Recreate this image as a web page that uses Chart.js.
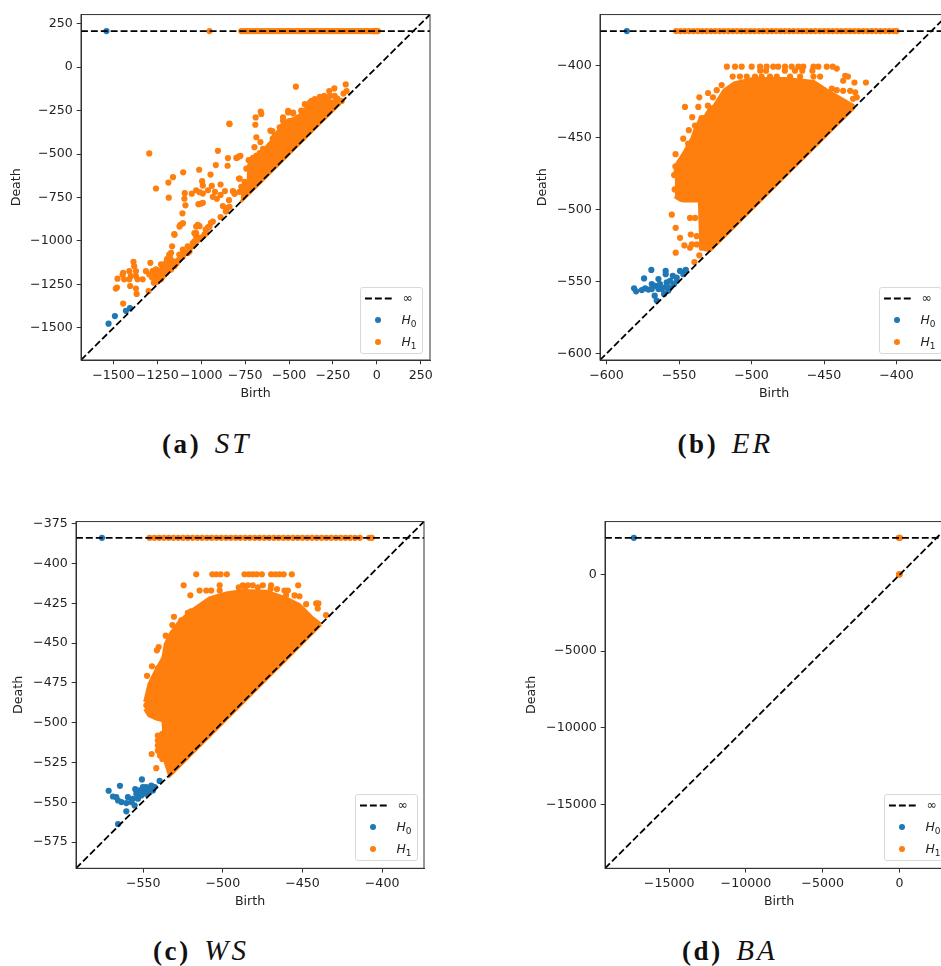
<!DOCTYPE html>
<html>
<head>
<meta charset="utf-8">
<script src="https://cdn.jsdelivr.net/npm/chart.js@4"></script>
<style>
  html, body { margin: 0; padding: 0; background: #fff; width: 941px; height: 966px; overflow: hidden; }
  canvas { position: absolute; filter: blur(.4px); }
  .caption { position: absolute; font-family: "Liberation Serif", serif; font-size: 27px; color: #111; white-space: pre; line-height: 30px; }
  .caption b { letter-spacing: 2.6px; }
  .caption i { font-size: 29px; letter-spacing: 3px; }
  .legend { position: absolute; width: 63px; height: 67px; box-sizing: border-box; border: 1px solid #d9d9d9; border-radius: 3px; background: rgba(255,255,255,.8); font: 12.4px "DejaVu Sans", sans-serif; color: #222; filter: blur(.3px); }
  .legend span { position: absolute; left: 41px; line-height: 14px; }
  .legend sub { font-size: 9px; vertical-align: -3px; line-height: 0; }
  .legend em { position: absolute; left: 14px; width: 6px; height: 6px; border-radius: 50%; }
  .legend svg { position: absolute; left: 3px; top: 8px; }
</style>
</head>
<body>
<script>
const blue = '#1f77b4';
const orange = '#ff7f0e';

// ST
const stLimits = [-1685, 303];
const stXTicks = [-1500, -1250, -1000, -750, -500, -250, 0, 250];
const stYTicks = [-1500, -1250, -1000, -750, -500, -250, 0, 250];
const stInf = 208;
const stH0 = [[-1528, -1476], [-1492, -1432], [-1429, -1402], [-1406, -1387]];
const stH0Inf = [-1540];
const stH1Inf = [-953, -772, -755, -738, -722, -705, -690, -672, -655, -640, -622, -606, -590, -572, -555, -540, -522, -506, -490, -472, -456, -440, -422, -406, -390, -372, -356, -340, -322, -306, -290, -272, -256, -240, -222, -206, -190, -172, -156, -140, -122, -106, -90, -72, -56, -40, -22, -15, -8, 0, 6];
const stCloudBirth = [-775, -734, -728, -667, -600, -534, -448, -410, -324, -200];
const stCloudTop = [-722, -660, -560, -500, -425, -320, -285, -240, -195, -195];
const stCloudLow = [-775, -734, -728, -667, -600, -534, -448, -410, -324, -200];
const stH1 = [
  [-1296, -496], [-1258, -698], [-1187, -664], [-1161, -633], [-1185, -751], [-1103, -605], [-1012, -590], [-947, -618],
  [-905, -481], [-917, -563], [-848, -523], [-850, -567], [-840, -325], [-793, -519], [-777, -510], [-781, -641],
  [-995, -656], [-991, -681], [-940, -683], [-962, -708], [-890, -675], [-865, -713], [-922, -717], [-820, -713],
  [-810, -727], [-1094, -725], [-1029, -708], [-1054, -728], [-1010, -719], [-991, -727], [-1096, -757], [-1090, -795],
  [-934, -746], [-911, -757], [-890, -735], [-1016, -788], [-991, -780], [-1000, -785], [-877, -799], [-842, -765],
  [-839, -803], [-858, -826], [-850, -810], [-1107, -841], [-1105, -898], [-1124, -917], [-1153, -964], [-1029, -917],
  [-1029, -955], [-1010, -915], [-945, -895], [-975, -935], [-960, -920], [-890, -862], [-860, -830],
  [-1487, -1274], [-1480, -1268], [-1445, -1360], [-1368, -1305], [-1372, -1274], [-1405, -1259], [-1477, -1217], [-1439, -1221],
  [-1448, -1193], [-1445, -1183], [-1410, -1174], [-1410, -1221], [-1401, -1202], [-1386, -1120], [-1382, -1145], [-1372, -1174],
  [-1372, -1202], [-1363, -1221], [-1334, -1221], [-1290, -1126], [-1315, -1174], [-1296, -1193], [-1277, -1174], [-1267, -1202],
  [-1239, -1193], [-1300, -1288], [-1258, -1164], [-1229, -1135], [-1201, -1126], [-1182, -1078], [-1178, -1097], [-1172, -1069],
  [-1163, -1116], [-1201, -1164], [-1220, -1164], [-1248, -1212], [-1229, -1221], [-1182, -1145], [-1153, -1145], [-1172, -1164],
  [-1258, -1212], [-1239, -1183], [-1210, -1193], [-1191, -1126], [-1172, -1116], [-1134, -1116], [-1125, -1078], [-1105, -1050],
  [-1077, -1031], [-1067, -1060], [-1105, -1088], [-1039, -1002], [-1077, -1069], [-1166, -1031], [-1153, -961], [-1119, -907],
  [-1105, -898], [-1020, -907], [-1039, -955], [-1029, -974], [-1048, -1012], [-1020, -993], [-963, -926], [-934, -888],
  [-953, -917], [-972, -955], [-982, -964], [-1250, -1235], [-1240, -1220], [-1230, -1200], [-1220, -1205], [-1210, -1180],
  [-1200, -1185], [-1190, -1170], [-1180, -1160], [-1170, -1150], [-1160, -1130], [-1150, -1125], [-1140, -1128], [-1130, -1110],
  [-1270, -1240], [-1280, -1210], [-1260, -1190], [-1245, -1170], [-1215, -1145], [-1195, -1105], [-1185, -1095], [-1100, -1075],
  [-1085, -1065], [-1060, -1035], [-1040, -1020], [-1010, -990], [-1000, -980], [-461, -112], [-177, -99], [-242, -122],
  [-271, -137], [-172, -137], [-190, -152], [-324, -175], [-372, -194], [-410, -213], [-505, -251], [-477, -261],
  [-534, -289], [-661, -255], [-658, -269], [-690, -289], [-692, -331], [-606, -365], [-595, -368], [-686, -403],
  [-663, -431], [-697, -460], [-781, -512], [-800, -522], [-785, -641], [-816, -717], [-810, -728], [-839, -327],
  [-743, -584], [-724, -574], [-710, -540], [-730, -535], [-593, -411], [-553, -383], [-534, -337], [-500, -310],
  [-465, -305], [-430, -250], [-395, -225], [-350, -190], [-300, -165], [-280, -190], [-240, -165], [-225, -180],
  [-724, -536], [-705, -521], [-686, -508], [-667, -495], [-648, -470], [-629, -489], [-696, -565], [-715, -578],
  [-671, -536], [-610, -451], [-581, -394], [-553, -346], [-534, -308], [-505, -260], [-477, -266], [-429, -251],
  [-381, -204], [-353, -184], [-324, -171], [-296, -184], [-267, -165], [-229, -184], [-200, -194], [-448, -289],
  [-772, -688], [-753, -660], [-782, -717]
];

// ER
const erLimits = [-604.5, -364.5];
const erXTicks = [-600, -550, -500, -450, -400];
const erYTicks = [-600, -550, -500, -450, -400];
const erInf = -376;
const erH0Inf = [-586];
const erH0 = [
  [-569.1, -541.9], [-574.1, -547.8], [-559.2, -542.6], [-559.2, -544.9], [-545.3, -541.9], [-581, -554.7], [-579.6, -556.8], [-575.7, -555.9],
  [-573.4, -554.7], [-571.1, -555.6], [-568.8, -551.7], [-566.8, -559.8], [-565.4, -563.2], [-564.2, -548.3], [-563.1, -551.7], [-561.9, -555.2],
  [-560.3, -558.6], [-558.5, -550.6], [-559.6, -554], [-556.2, -549.5], [-554.3, -546], [-551.6, -547.2], [-549.3, -542.6], [-553.4, -551.7],
  [-556.2, -554], [-551.6, -549.5], [-547, -544.9], [-566.5, -552.9], [-568.8, -555.2], [-557.3, -556.3], [-564.2, -555.2]
];
const erH1Inf = [-552, -549, -546, -543, -540, -537, -534, -531, -528, -525, -522, -519, -516, -513, -510, -507, -504, -501, -498, -495, -492, -489, -486, -483, -480, -477, -474, -471, -468, -465, -462, -459, -456, -453, -450, -447, -444, -441, -438, -435, -432, -429, -426, -423, -420, -417, -414, -411, -408, -405, -402, -400];
const erCloudBirth = [-553, -551.6, -549, -547, -541, -539, -536, -535, -532, -528.5, -526, -519, -512, -499, -476, -457, -448, -429];
const erCloudTop = [-475, -468, -464, -461, -450, -444, -438, -437, -435, -429, -428, -417, -412, -409, -409, -411, -417, -428];
const erCloudLow = [-491, -492, -493.5, -494, -494, -494, -494, -526, -528, -528.5, -526, -519, -512, -499, -476, -457, -448, -429];
const erH1 = [
  [-517, -400.7], [-511.4, -400.7], [-506.8, -400.7], [-499.9, -400.7], [-494.1, -400.7], [-489.6, -400.7], [-485, -400.7], [-481.6, -400.7],
  [-476.9, -400.7], [-472.3, -400.7], [-467.7, -400.7], [-464.3, -400.7], [-457.3, -400.7], [-453.9, -400.7], [-448.1, -400.7], [-444, -400.7],
  [-441.2, -402], [-513, -407.6], [-508, -407.6], [-503.3, -407.6], [-497.6, -407.6], [-493, -407.6], [-487.3, -407.6], [-482.6, -407.6],
  [-473.4, -407.6], [-466.5, -407.6], [-457.3, -407.6], [-452.7, -407.6], [-494, -403.5], [-490, -403.5], [-477, -403.5], [-470, -403.5],
  [-465, -403.5], [-458, -403.5], [-435.4, -407], [-433.5, -407.6], [-436.8, -410.5], [-429, -411.7], [-421.1, -411.7], [-441.2, -417],
  [-436.8, -417.5], [-432, -417.5], [-428.5, -418.6], [-427.4, -422], [-430, -423], [-444.6, -416], [-520.6, -413.5], [-524, -417],
  [-530, -419], [-526.6, -422], [-536, -422], [-545.9, -428.7], [-536.7, -428.7], [-530.1, -427.8], [-523, -427.5], [-540.9, -435.8],
  [-534.5, -436.5], [-543.2, -444.8], [-539, -441.6], [-547.1, -450.7], [-543.7, -454.2], [-552.4, -461.5], [-555, -503.5], [-552.3, -512.7],
  [-549.3, -519.6], [-546.3, -524.9], [-552.3, -529.9], [-542.4, -505.8], [-538.9, -505.8], [-541.9, -517.3], [-537.8, -518.5], [-541.2, -524.2],
  [-537.8, -524.2], [-542.4, -526.5], [-536, -531.8], [-539.4, -536.4], [-534.3, -526.5], [-553.4, -476], [-552.5, -470], [-553, -486], [-550, -491]
];

// WS
const wsXLimits = [-592.2, -373.7];
const wsYLimits = [-591.4, -373.6];
const wsXTicks = [-550, -500, -450, -400];
const wsYTicks = [-575, -550, -525, -500, -475, -450, -425, -400, -375];
const wsInf = -383.8;
const wsH0Inf = [-575.9];
const wsH0 = [
  [-571.7, -542.7], [-564.6, -539.6], [-565.8, -563.6], [-560.6, -555.6], [-550.8, -535.6], [-539.7, -536.5], [-569, -546.3], [-566.9, -546.7],
  [-565.8, -548.8], [-563.7, -549.8], [-560.6, -550.4], [-559.6, -546.7], [-557.5, -549.8], [-555.4, -551.9], [-556.4, -547.7], [-554.3, -544.6],
  [-555, -541.7], [-552.2, -542.5], [-550.2, -540.4], [-548.1, -540.4], [-544.9, -539.4], [-542.8, -540.4], [-551.2, -545.6], [-553.3, -547.7],
  [-548.1, -544.6], [-546, -543.5], [-543.9, -542.5], [-549.5, -542.5], [-547, -542]
];
const wsH1Inf = [-546, -543, -540, -537, -534, -531, -528, -525, -522, -519, -516, -513, -510, -507, -504, -501, -498, -495, -492, -489, -486, -483, -480, -477, -474, -471, -468, -465, -462, -459, -456, -453, -450, -447, -444, -441, -438, -435, -432, -429, -426, -423, -420, -417, -414, -408, -406.5];
const wsCloudBirth = [-549.1, -546.4, -541.8, -537.6, -536.2, -533.4, -527.2, -518.8, -508.4, -497.9, -487.5, -472.8, -460.3, -451.9, -443.6, -438.3];
const wsCloudTop = [-486.8, -475.7, -466.4, -459, -450.7, -444.5, -436.1, -428.8, -421.5, -418.4, -416.9, -417.3, -421.5, -425.7, -434, -438];
const wsCloudLow = [-491.4, -495.6, -497.7, -498.7, -524.8, -533.4, -527.2, -518.8, -508.4, -497.9, -487.5, -472.8, -460.3, -451.9, -443.6, -438.3];
const wsH1 = [
  [-540.8, -508.1], [-540.8, -511.2], [-540.8, -514.3], [-540.8, -517.5], [-538, -507], [-538, -510.2], [-538, -513.3], [-538, -516.4],
  [-538, -519.6], [-538, -522.7], [-539.5, -520.6], [-516.7, -406.7], [-506.6, -406.7], [-504.1, -406.7], [-501.4, -406.7], [-497.5, -406.7],
  [-486.4, -406.7], [-483.7, -406.7], [-481.2, -406.7], [-478.7, -406.7], [-475.5, -406.7], [-469.7, -406.7], [-467, -406.7], [-464.5, -406.7],
  [-461.8, -406.7], [-456.7, -406.7], [-524.6, -413.6], [-502, -413.6], [-487.5, -413.6], [-484.3, -413.6], [-481.2, -413.6], [-474.9, -413.6],
  [-469.7, -413.6], [-452.7, -413.6], [-514.6, -416.9], [-510.4, -416.9], [-507.3, -416.9], [-502, -416.9], [-461.3, -416.9], [-459.2, -416.9],
  [-520.4, -419.9], [-451.9, -420.5], [-460.3, -420], [-455, -420], [-441.4, -425], [-440, -425], [-440.4, -428.2], [-435.2, -432.4],
  [-530.7, -433.4], [-522, -430.9], [-520, -430], [-531.7, -438.6], [-526.1, -435.7], [-535.9, -445.3], [-531.3, -443.5], [-540.3, -452.4],
  [-541.4, -454.5], [-544.5, -464.5], [-540.7, -465.7], [-447.7, -425.5], [-547.6, -470.5], [-544.7, -519.6], [-541.8, -528.5], [-548, -489],
  [-490, -415], [-486, -415], [-478, -415], [-470, -416], [-466, -416]
];

// BA
const baXLimits = [-19181, 3491];
const baYLimits = [-19150, 3437];
const baXTicks = [-15000, -10000, -5000, 0];
const baYTicks = [-15000, -10000, -5000, 0];
const baInf = 2380;
const baH0Inf = [-17300];
const baH0 = [];
const baH1Inf = [-40, 0, 30];
const baH1 = [[-30, -10], [0, 0], [20, 10]];

// plot boxes and legend / caption places, in page pixels
const panels = [
  { box: [81, 13.3, 349, 347.7], deathX: 16, birthY: 394, legend: [359.5, 287], caption: [162, 428], label: '(a)', name: 'ST',
    xLim: stLimits, yLim: stLimits, xTicks: stXTicks, yTicks: stYTicks, inf: stInf, h0: stH0, h0Inf: stH0Inf, h1: stH1, h1Inf: stH1Inf,
    cloud: [stCloudBirth, stCloudTop, stCloudLow] },
  { box: [600, 13.3, 348, 347.7], deathX: 542, birthY: 394, legend: [878.5, 287], caption: [677.5, 428], label: '(b)', name: 'ER',
    xLim: erLimits, yLim: erLimits, xTicks: erXTicks, yTicks: erYTicks, inf: erInf, h0: erH0, h0Inf: erH0Inf, h1: erH1, h1Inf: erH1Inf,
    cloud: [erCloudBirth, erCloudTop, erCloudLow] },
  { box: [76, 520, 348.7, 348.3], deathX: 18, birthY: 901, legend: [354.5, 794], caption: [153, 935], label: '(c)', name: 'WS',
    xLim: wsXLimits, yLim: wsYLimits, xTicks: wsXTicks, yTicks: wsYTicks, inf: wsInf, h0: wsH0, h0Inf: wsH0Inf, h1: wsH1, h1Inf: wsH1Inf,
    cloud: [wsCloudBirth, wsCloudTop, wsCloudLow] },
  { box: [605, 520, 348.7, 348.3], deathX: 531, birthY: 901, legend: [883.5, 794], caption: [682, 935], label: '(d)', name: 'BA',
    xLim: baXLimits, yLim: baYLimits, xTicks: baXTicks, yTicks: baYTicks, inf: baInf, h0: baH0, h0Inf: baH0Inf, h1: baH1, h1Inf: baH1Inf,
    cloud: null }
];

const tickFont = { family: '"DejaVu Sans"', size: 12.6 };

const frame = {
  id: 'frame',
  afterDatasetsDraw(chart) {
    const a = chart.chartArea, c = chart.ctx;
    c.save();
    c.strokeStyle = '#333';
    c.lineWidth = 1;
    c.strokeRect(a.left, a.top, a.right - a.left, a.bottom - a.top);
    c.restore();
  }
};

function pts(pairs) {
  return pairs.map(p => ({ x: p[0], y: p[1] }));
}

function axis(lim, ticks, title) {
  return {
    type: 'linear',
    min: lim[0],
    max: lim[1],
    afterBuildTicks: s => { s.ticks = ticks.map(v => ({ value: v })); },
    ticks: {
      autoSkip: false, maxRotation: 0, color: '#222', font: tickFont, padding: 4,
      callback: v => (v < 0 ? '\u2212' + Math.abs(v) : '' + v)
    },
    grid: { drawOnChartArea: false, tickLength: 4.3, color: '#333' },
    border: { color: '#333' },
    title: { display: true, text: title, color: '#222', font: tickFont, padding: 0 }
  };
}

function drawPanel(p) {
  const [left, top, w, h] = p.box;
  const pad = 10;
  const canvasLeft = p.deathX - 7;
  const xH = p.birthY + 8 - (top + h);
  const cv = document.createElement('canvas');
  cv.width = left - canvasLeft + w + pad;
  cv.height = pad + h + xH;
  cv.style.left = canvasLeft + 'px';
  cv.style.top = (top - pad) + 'px';
  document.body.appendChild(cv);

  const sets = [
    { data: [{ x: p.xLim[0], y: p.yLim[0] }, { x: p.xLim[1], y: p.yLim[1] }], showLine: true, borderColor: '#000', borderWidth: 1.8, borderDash: [6.9, 3], pointRadius: 0, order: 0 },
    { data: [{ x: p.xLim[0], y: p.inf }, { x: p.xLim[1], y: p.inf }], showLine: true, borderColor: '#000', borderWidth: 1.8, borderDash: [6.9, 3], pointRadius: 0, order: 0 },
    { data: pts(p.h0).concat(p.h0Inf.map(x => ({ x: x, y: p.inf }))), backgroundColor: blue, pointRadius: 3.1, borderWidth: 0, order: 3 },
    { data: pts(p.h1).concat(p.h1Inf.map(x => ({ x: x, y: p.inf }))), backgroundColor: orange, pointRadius: 3.1, borderWidth: 0, order: 1 }
  ];
  if (p.cloud) {
    const [birth, top_, low] = p.cloud;
    sets.push({ data: birth.map((x, i) => ({ x: x, y: top_[i] })), showLine: true, fill: '+1', backgroundColor: orange, borderColor: orange, borderWidth: 3, pointRadius: 0, order: 2 });
    sets.push({ data: birth.map((x, i) => ({ x: x, y: low[i] })), showLine: true, borderColor: orange, borderWidth: 3, pointRadius: 0, order: 2 });
  }

  const xScale = axis(p.xLim, p.xTicks, 'Birth');
  xScale.afterFit = s => { s.height = xH; };
  const yScale = axis(p.yLim, p.yTicks, 'Death');
  yScale.afterFit = s => { s.width = left - canvasLeft; };

  new Chart(cv, {
    type: 'scatter',
    data: { datasets: sets },
    options: {
      responsive: false,
      animation: false,
      layout: { padding: { top: pad, right: pad, left: 0, bottom: 0 } },
      plugins: { legend: { display: false }, tooltip: { enabled: false } },
      scales: { x: xScale, y: yScale }
    },
    plugins: [frame]
  });

  const lg = document.createElement('div');
  lg.className = 'legend';
  lg.style.left = p.legend[0] + 'px';
  lg.style.top = p.legend[1] + 'px';
  lg.innerHTML = '<svg width="30" height="5"><line x1="1" y1="2.5" x2="29" y2="2.5" stroke="#000" stroke-width="1.8" stroke-dasharray="6.9 3"/></svg>' +
    '<span style="top:3px;left:42px">\u221E</span>' +
    '<em style="top:29px;background:' + blue + '"></em><span style="top:25px"><i>H</i><sub>0</sub></span>' +
    '<em style="top:51px;background:' + orange + '"></em><span style="top:47px"><i>H</i><sub>1</sub></span>';
  document.body.appendChild(lg);

  const cap = document.createElement('div');
  cap.className = 'caption';
  cap.style.left = p.caption[0] + 'px';
  cap.style.top = p.caption[1] + 'px';
  cap.innerHTML = '<b>' + p.label + '</b>  <i>' + p.name + '</i>';
  document.body.appendChild(cap);
}

panels.forEach(drawPanel);
</script>
</body>
</html>
